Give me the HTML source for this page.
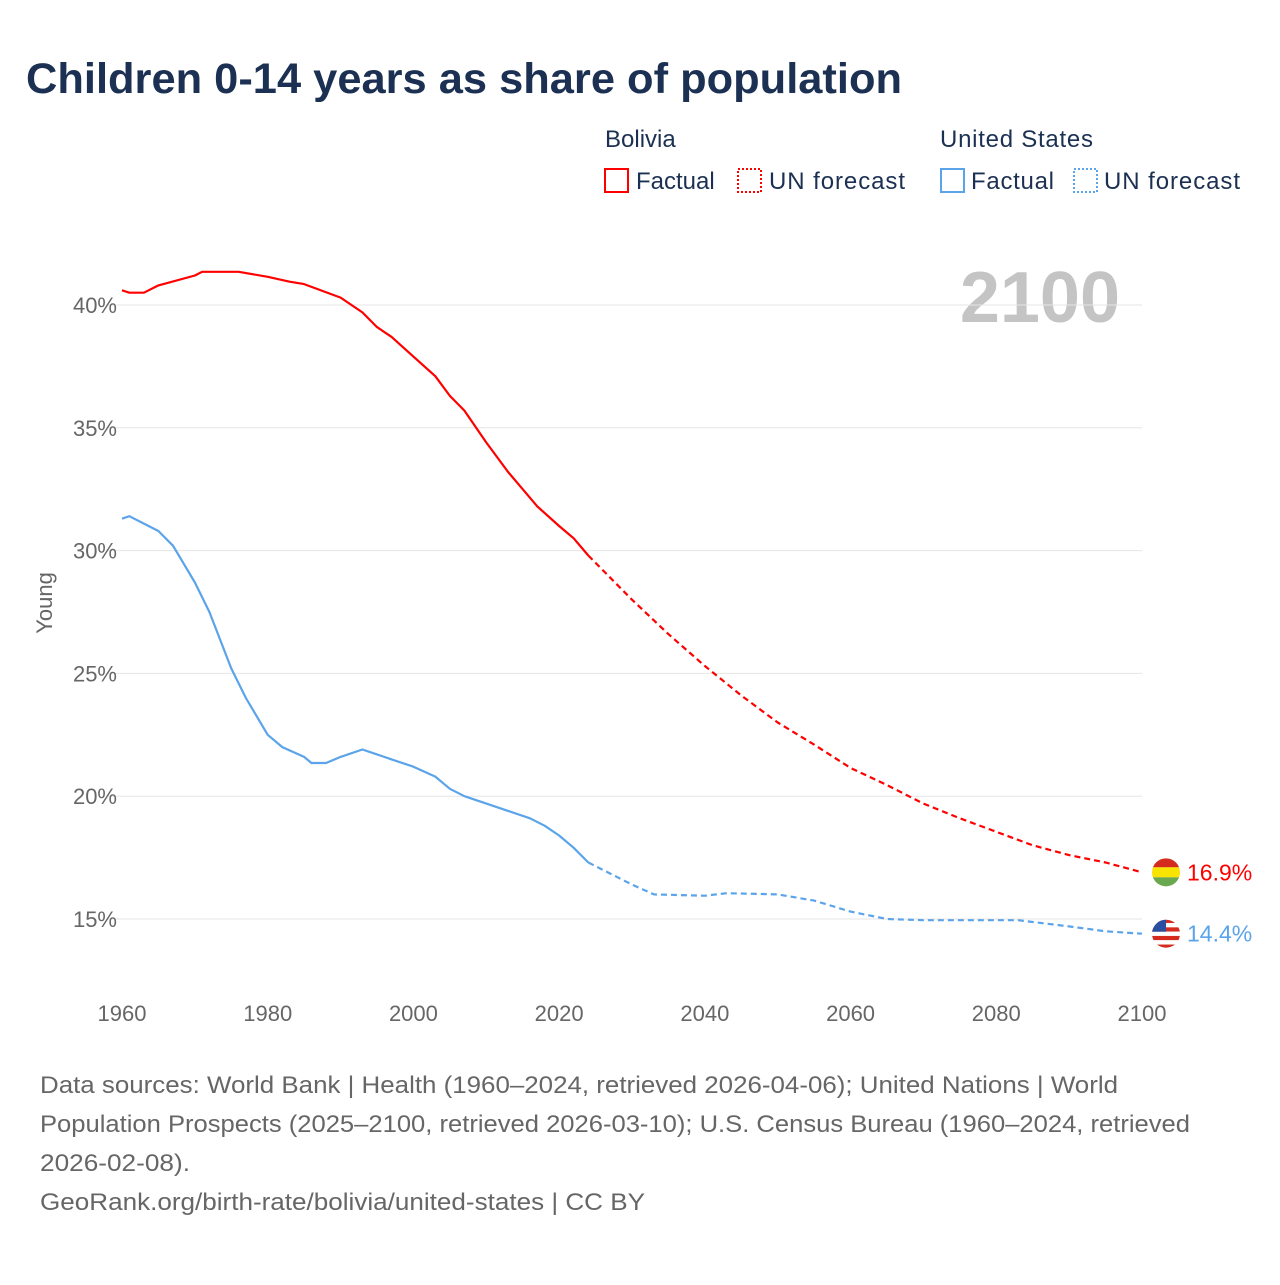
<!DOCTYPE html>
<html><head><meta charset="utf-8"><style>
body{margin:0;background:#fff;font-family:"Liberation Sans",sans-serif;}
</style></head><body>
<svg width="1280" height="1280" xmlns="http://www.w3.org/2000/svg" font-family="Liberation Sans, sans-serif">
<rect width="1280" height="1280" fill="#fff"/>
<text x="26" y="93" font-size="43" font-weight="bold" fill="#1b3052" textLength="876" lengthAdjust="spacingAndGlyphs">Children 0-14 years as share of population</text>
<g font-size="24" fill="#1b3052">
<text x="605" y="147">Bolivia</text>
<rect x="605" y="169" width="23" height="23" fill="none" stroke="#f00" stroke-width="2"/>
<text x="636" y="189">Factual</text>
<rect x="738" y="169" width="23" height="23" fill="none" stroke="#f00" stroke-width="2" stroke-dasharray="2,2"/>
<text x="769" y="189" textLength="136">UN forecast</text>
<text x="940" y="147" textLength="153">United States</text>
<rect x="941" y="169" width="23" height="23" fill="none" stroke="#5ba4ea" stroke-width="2"/>
<text x="971" y="189" textLength="83">Factual</text>
<rect x="1074" y="169" width="23" height="23" fill="none" stroke="#5ba4ea" stroke-width="2" stroke-dasharray="2,2"/>
<text x="1104" y="189" textLength="136">UN forecast</text>
</g>
<text x="1120" y="322" font-size="72" font-weight="bold" fill="#c4c4c4" text-anchor="end">2100</text>
<text transform="translate(52,603) rotate(-90)" font-size="22" fill="#666" text-anchor="middle">Young</text>
<g id="grid"></g><g id="series"></g><g id="xt"></g>
<g font-size="24" fill="#666">
<text x="40" y="1093" textLength="1078" lengthAdjust="spacingAndGlyphs">Data sources: World Bank | Health (1960–2024, retrieved 2026-04-06); United Nations | World</text>
<text x="40" y="1132" textLength="1150" lengthAdjust="spacingAndGlyphs">Population Prospects (2025–2100, retrieved 2026-03-10); U.S. Census Bureau (1960–2024, retrieved</text>
<text x="40" y="1171" textLength="150" lengthAdjust="spacingAndGlyphs">2026-02-08).</text>
<text x="40" y="1210" textLength="605" lengthAdjust="spacingAndGlyphs">GeoRank.org/birth-rate/bolivia/united-states | CC BY</text>
</g>
</svg>
<script>
const yTicks=[15,20,25,30,35,40];
const xTicks=[1960,1980,2000,2020,2040,2060,2080,2100];
const boYears=[1960,1961,1963,1965,1970,1971,1976,1980,1983,1985,1990,1993,1995,1997,2000,2003,2005,2007,2010,2013,2015,2017,2020,2022,2024];
const boVals=[40.6,40.5,40.5,40.8,41.2,41.35,41.35,41.15,40.95,40.85,40.3,39.7,39.1,38.7,37.9,37.1,36.3,35.7,34.4,33.2,32.5,31.8,31.0,30.5,29.8];
const boFYears=[2024,2030,2035,2040,2045,2050,2055,2060,2065,2070,2075,2080,2085,2090,2095,2100];
const boFVals=[29.8,28.0,26.6,25.3,24.1,23.0,22.1,21.15,20.45,19.7,19.1,18.55,18.0,17.6,17.3,16.9];
const usYears=[1960,1961,1963,1965,1967,1970,1972,1975,1977,1980,1982,1985,1986,1988,1990,1993,1995,1997,2000,2003,2005,2007,2010,2013,2016,2018,2020,2022,2024];
const usVals=[31.3,31.4,31.1,30.8,30.2,28.7,27.5,25.2,24.0,22.5,22.0,21.6,21.35,21.35,21.6,21.9,21.7,21.5,21.2,20.8,20.3,20.0,19.7,19.4,19.1,18.8,18.4,17.9,17.3];
const usFYears=[2024,2028,2030,2033,2040,2043,2050,2055,2060,2065,2070,2083,2090,2095,2100];
const usFVals=[17.3,16.7,16.4,16.0,15.95,16.05,16.0,15.75,15.3,15.0,14.95,14.95,14.7,14.5,14.4];
const NS='http://www.w3.org/2000/svg';
const X=y=>122+(y-1960)*(1142-122)/140;
const Y=v=>919-(v-15)*(919-305)/25;
function mk(t,a,p){const e=document.createElementNS(NS,t);for(const k in a)e.setAttribute(k,a[k]);p.appendChild(e);return e;}
const g=document.getElementById('grid');
yTicks.forEach(t=>{
const l=mk('line',{x1:108,x2:1142,y1:Y(t),y2:Y(t),stroke:'#e6e6e6','stroke-width':1},g);


const tx=mk('text',{x:117,y:Y(t)+8,'font-size':22,fill:'#666','text-anchor':'end'},g);
tx.textContent=t+'%';


});
const xt=document.getElementById('xt');
xTicks.forEach(t=>{
const tx=mk('text',{x:X(t),y:1021,'font-size':22,fill:'#666','text-anchor':'middle'},xt);
tx.textContent=t;


});
const s=document.getElementById('series');
function line(ys,vs,c,dash,name){
const d=ys.map((y,i)=>(i?'L':'M')+X(y).toFixed(1)+','+Y(vs[i]).toFixed(1)).join('');
const p=mk('path',{d:d,fill:'none',stroke:c,'stroke-width':2.2,'stroke-linejoin':'round'},s);
if(dash)p.setAttribute('stroke-dasharray','6,4');


}
line(boYears,boVals,'#f00',false,'bolivia-factual-line');
line(boFYears,boFVals,'#f00',true,'bolivia-forecast-line');
line(usYears,usVals,'#5ba4ea',false,'us-factual-line');
line(usFYears,usFVals,'#5ba4ea',true,'us-forecast-line');
const bv=boFVals[boFVals.length-1], uv=usFVals[usFVals.length-1];
const fx=1166;
const bf=mk('g',{},s);


const by=Y(bv);
const cb=mk('clipPath',{id:'cb'},bf);mk('circle',{cx:fx,cy:by,r:14},cb);
const bg=mk('g',{'clip-path':'url(#cb)'},bf);
mk('rect',{x:fx-15,y:by-15,width:30,height:10,fill:'#d52b1e'},bg);
mk('rect',{x:fx-15,y:by-5,width:30,height:10,fill:'#f9e300'},bg);
mk('rect',{x:fx-15,y:by+5,width:30,height:10,fill:'#6aa84f'},bg);
const uf=mk('g',{},s);


const uy=Y(uv);
const cu=mk('clipPath',{id:'cu'},uf);mk('circle',{cx:fx,cy:uy,r:14},cu);
const ug=mk('g',{'clip-path':'url(#cu)'},uf);
for(let i=0;i<7;i++)mk('rect',{x:fx-15,y:uy-15+i*4.3,width:30,height:4.3,fill:i%2?'#fff':'#d52b1e'},ug);
mk('rect',{x:fx-15,y:uy-15,width:15,height:13,fill:'#2a4ea0'},ug);
const bl=mk('text',{x:1187,y:by+8,'font-size':23,fill:'#f00'},s);
bl.textContent=bv.toFixed(1)+'%';


const ul=mk('text',{x:1187,y:uy+8,'font-size':23,fill:'#5ba4ea'},s);
ul.textContent=uv.toFixed(1)+'%';


</script>
</body></html>
